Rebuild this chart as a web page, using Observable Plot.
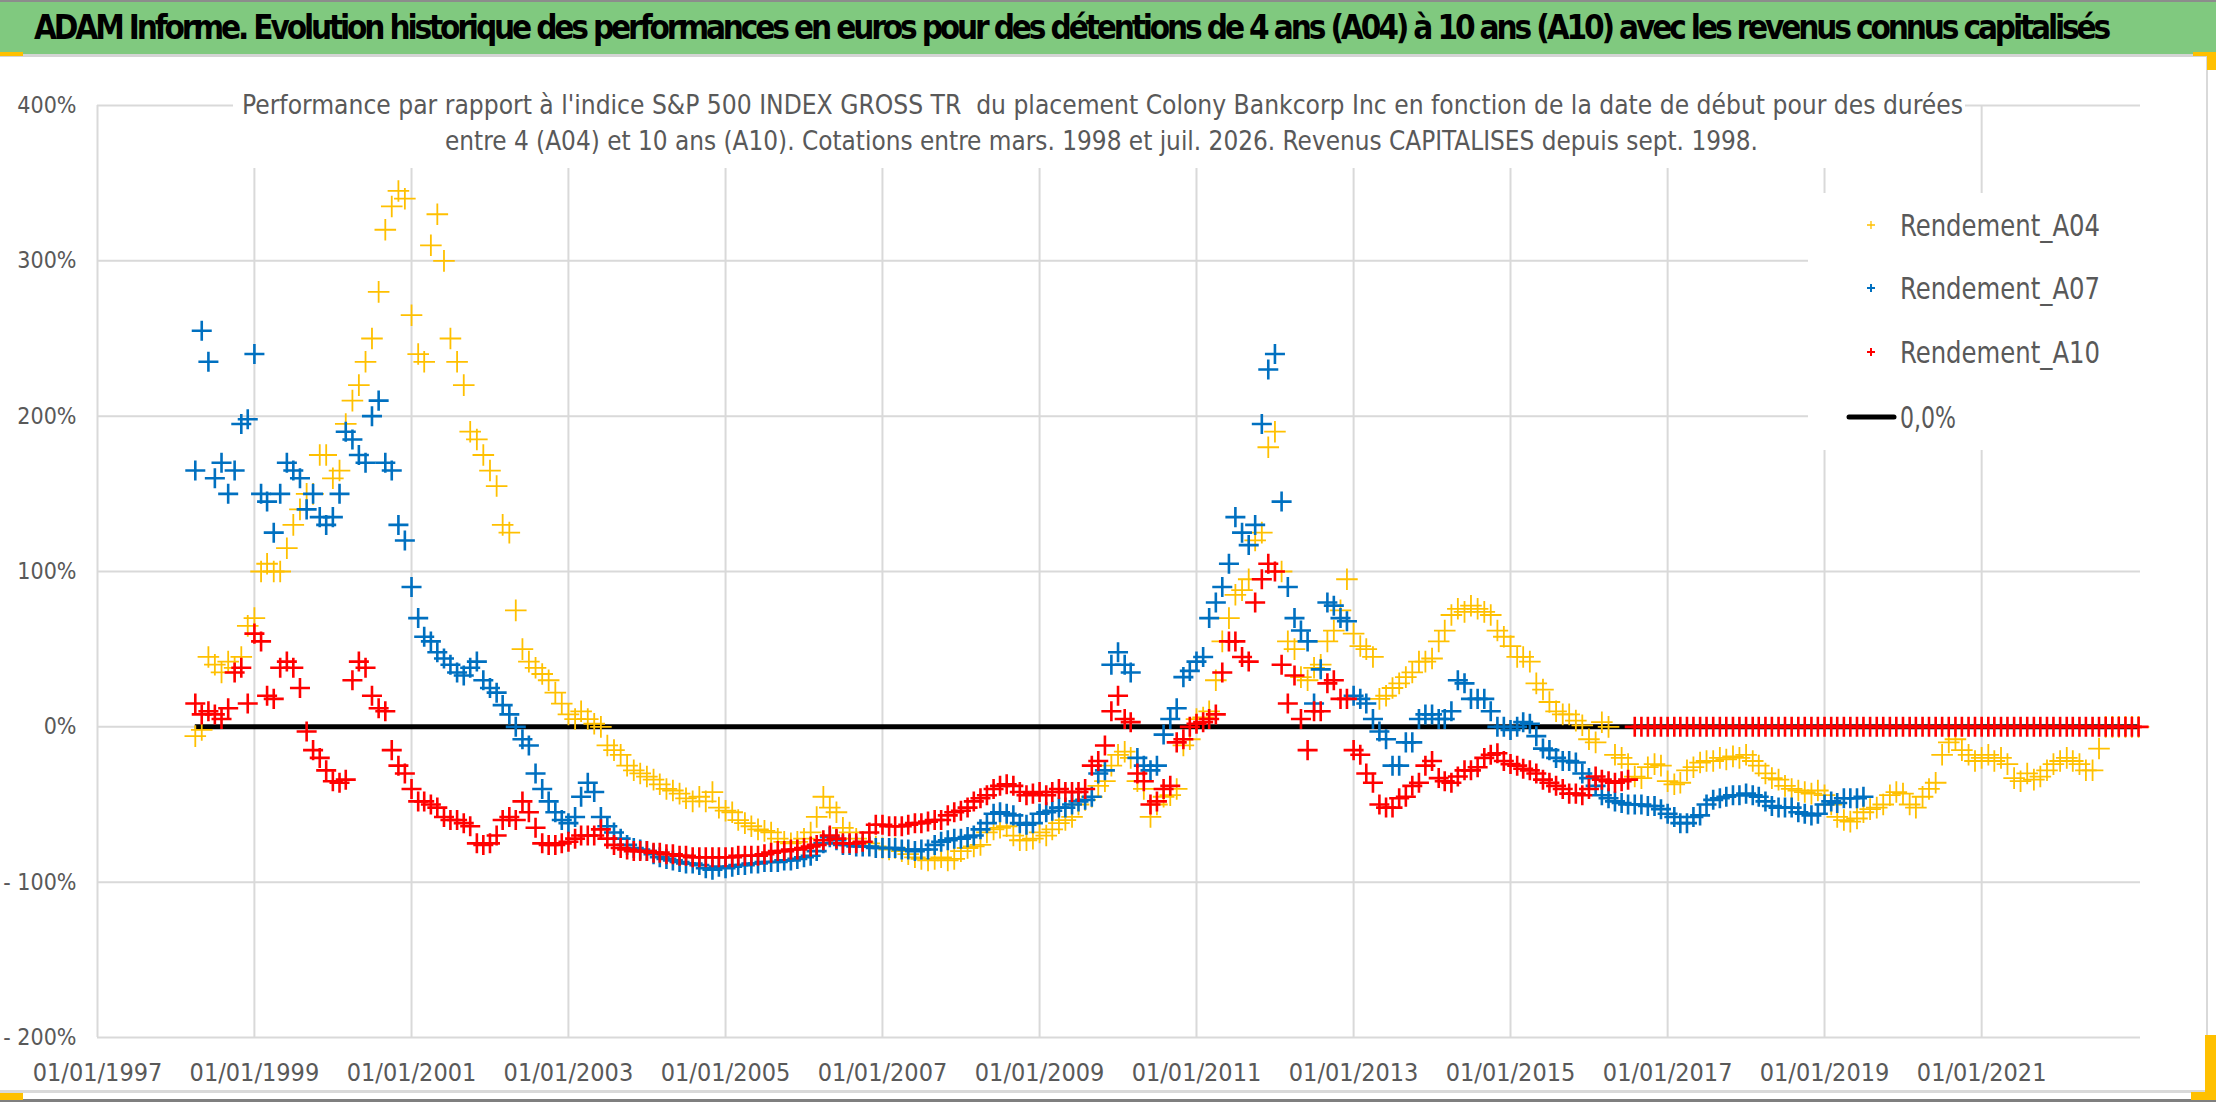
<!DOCTYPE html>
<html>
<head>
<meta charset="utf-8">
<script src="https://cdn.jsdelivr.net/npm/d3@7"></script>
<script src="https://cdn.jsdelivr.net/npm/@observablehq/plot@0.6"></script>
<style>
  body { margin: 0; background: #fff; }
  #page { position: relative; width: 2216px; height: 1102px; overflow: hidden; background: #fff; }
  #chart { position: absolute; left: 0; top: 57px; }
  #overlay { position: absolute; left: 0; top: 0; }
  #title { position: absolute; left: 34px; top: 11px; font-family: "Liberation Sans Narrow", "DejaVu Sans Condensed", "Liberation Sans", sans-serif;
           font-weight: bold; font-size: 33px; line-height: 33px; color: #000; white-space: nowrap; }
</style>
</head>
<body>
<div id="page">
  <div id="chart"></div>
  <svg id="overlay" width="2216" height="1102"></svg>
  <span id="title">ADAM Informe. Evolution historique des performances en euros pour des détentions de 4 ans (A04) à 10 ans (A10) avec les revenus connus capitalisés</span>
</div>
<script>
const FONT = '"Liberation Sans Narrow", "DejaVu Sans Condensed", "Liberation Sans", sans-serif'

// monthly readings (%), first value = April 1998
const a04 = [
  -6, -2, 45, 40, 35, 42, 38, 45, 65,
  70, 100, 105, 100, 100, 115, 130, 140, 150, 150, 175, 175,
  160, 165, 195, 210, 220, 235, 250, 280, 320, 335, 345, 340,
  265, 240, 235, 310, 330, 300, 250, 235, 220, 190, 185, 175,
  165, 155, 130, 125, 75, 50, 42, 38, 34, 30, 22, 15,
  8, 5, 10, 5, 2, 0, -12, -15, -18, -25, -28, -30,
  -32, -34, -37, -40, -41, -43, -46, -48, -45, -48, -42, -52,
  -54, -55, -60, -62, -64, -66, -67, -68, -72, -74, -75, -74,
  -72, -68, -58, -45, -52, -55, -65, -68, -72, -74, -75, -77,
  -78, -79, -78, -80, -82, -84, -85, -86, -85, -84, -86, -85,
  -80, -78, -77, -76, -68, -66, -65, -64, -70, -73, -73, -72,
  -68, -70, -66, -62, -60, -58, -50, -47, -45, -38, -35, -25,
  -18, -16, -20, -35, -40, -58, -50, -45, -44, -40, -12, -8,
  5, 6, 10, 30, 55, 70, 85, 88, 95, 120, 125, 180,
  190, 100, 55, 50, 32, 30, 38, 40, 55, 62, 75, 95,
  60, 52, 50, 45, 18, 20, 25, 28, 32, 35, 42, 42,
  44, 55, 62, 72, 76, 74, 78, 76, 74, 72, 62, 58,
  52, 45, 45, 42, 28, 24, 16, 10, 8, 8, 4, 1,
  -8, -10, 3, 0, -18, -20, -24, -32, -33, -26, -24, -25,
  -35, -37, -36, -28, -26, -23, -22, -22, -20, -21, -19, -20,
  -18, -22, -25, -30, -33, -34, -38, -40, -41, -42, -43, -41,
  -44, -50, -58, -60, -61, -59, -55, -53, -52, -50, -44, -42,
  -43, -50, -52, -45, -40, -36, -18, -10, -8, -15, -18, -22,
  -20, -18, -22, -20, -24, -33, -35, -30, -34, -32, -28, -24,
  -22, -20, -22, -24, -28, -28, -14, 0, 0, 0, 0, 0,
  0
]

const a07 = [
  165, 255, 235, 160, 170, 150, 165, 195, 198,
  240, 150, 145, 125, 150, 170, 165, 160, 140, 150, 135, 130,
  135, 150, 190, 185, 175, 170, 200, 210, 170, 165, 130, 120,
  90, 70, 58, 55, 48, 44, 40, 35, 33, 38, 42, 30,
  25, 22, 14, 8, 0, -8, -12, -30, -40, -48, -55, -60,
  -62, -58, -45, -36, -42, -58, -64, -68, -72, -76, -78, -79,
  -80, -82, -84, -85, -86, -87, -88, -88, -89, -91, -92, -90,
  -91, -90, -89, -89, -88, -88, -87, -87, -87, -86, -86, -85,
  -84, -83, -80, -75, -71, -73, -76, -76, -77, -77, -77, -78,
  -78, -78, -78, -79, -79, -80, -79, -79, -76, -74, -73, -72,
  -72, -71, -70, -66, -62, -56, -55, -56, -57, -62, -63, -62,
  -56, -55, -54, -52, -52, -50, -48, -47, -45, -30, -28, 40,
  48, 40, 35, -20, -25, -28, -25, -5, 5, 12, 32, 36,
  42, 45, 70, 80, 90, 105, 135, 125, 117, 130, 195, 230,
  240, 145, 90, 70, 62, 55, 15, 37, 80, 78, 70, 68,
  20, 18, 15, 5, -3, -8, -25, -25, -10, -10, 5, 8,
  8, 5, 5, 10, 30, 28, 18, 18, 18, 10, 0, 0,
  -2, 0, 3, 2, -6, -14, -15, -20, -22, -22, -23, -30,
  -33, -38, -44, -46, -48, -49, -50, -50, -50, -51, -51, -53,
  -56, -58, -62, -62, -58, -57, -50, -47, -46, -45, -44, -44,
  -43, -44, -45, -48, -51, -52, -52, -52, -55, -56, -57, -56,
  -50, -48, -49, -46, -46, -46, -45
]

const a10 = [
  15, 8, 10, 8, 5, 12, 35, 38, 15,
  60, 55, 20, 18, 38, 42, 38, 25, -3, -15, -20, -28,
  -35, -36, -34, 30, 42, 38, 20, 12, 10, -15, -25, -30,
  -40, -48, -48, -50, -52, -58, -60, -60, -62, -64, -75, -76,
  -75, -70, -60, -58, -60, -48, -55, -65, -75, -76, -76, -75,
  -74, -72, -70, -70, -70, -66, -72, -76, -78, -79, -80, -80,
  -80, -81, -81, -82, -82, -83, -83, -84, -84, -84, -84, -84,
  -84, -84, -83, -83, -83, -83, -82, -81, -80, -80, -79, -79,
  -78, -77, -76, -73, -70, -72, -75, -75, -75, -74, -68, -63,
  -63, -64, -64, -64, -63, -62, -62, -61, -60, -60, -57, -55,
  -54, -52, -48, -46, -44, -40, -38, -37, -38, -42, -44, -43,
  -42, -44, -42, -40, -42, -42, -42, -40, -25, -22, -12, 10,
  20, 5, 3, -30, -35, -50, -48, -40, -38, -10, -8, 0,
  2, 3, 5, 8, 35, 55, 55, 45, 42, 80, 95, 105,
  100, 40, 15, 33, 5, -15, 10, 10, 28, 30, 18, 18,
  -15, -18, -30, -36, -50, -52, -52, -46, -45, -38, -36, -25,
  -22, -33, -35, -36, -32, -28, -28, -26, -20, -18, -17, -22,
  -24, -25, -27, -28, -30, -34, -36, -38, -40, -43, -43, -44,
  -40, -32, -34, -35, -36, -35, -34, 0, 0, 0, 0, 0,
  0, 0, 0, 0, 0, 0, 0, 0, 0, 0, 0, 0,
  0, 0, 0, 0, 0, 0, 0, 0, 0, 0, 0, 0,
  0, 0, 0, 0, 0, 0, 0, 0, 0, 0, 0, 0,
  0, 0, 0, 0, 0, 0, 0, 0, 0, 0, 0, 0,
  0, 0, 0, 0, 0, 0, 0, 0, 0, 0, 0, 0,
  0, 0, 0, 0, 0, 0, 0, 0, 0, 0, 0, 0,
  0
]

const xTicks = [1997, 1999, 2001, 2003, 2005, 2007, 2009, 2011, 2013, 2015, 2017, 2019, 2021]
const yTicks = [-200, -100, 0, 100, 200, 300, 400]
const seriesNames = ["Rendement_A04", "Rendement_A07", "Rendement_A10", "0,0%"]
const seriesColors = ["#ffc000", "#0070c0", "#ff0000", "#000000"]

const start = new Date(Date.UTC(1998, 3, 1))
const toRows = values => {
  const dates = d3.utcMonth.range(start, d3.utcMonth.offset(start, values.length))
  return values.map((v, i) => ({date: dates[i], value: v}))
}
const r04 = toRows(a04), r07 = toRows(a07), r10 = toRows(a10)
const zeroStart = r10[0].date, zeroEnd = r10[r10.length - 1].date
const tickDates = xTicks.map(y => new Date(Date.UTC(y, 0, 1)))
const pct = v => v < 0 ? "- " + (-v) + "%" : v + "%"

let chart = Plot.plot({
  width: 2190,
  height: 1035,
  marginLeft: 97,
  marginRight: 50,
  marginTop: 48,
  marginBottom: 55,
  style: {background: "transparent", color: "#595959", fontFamily: FONT, overflow: "visible"},
  x: {type: "utc", domain: [new Date(Date.UTC(1997, 0, 1)), new Date(Date.UTC(2023, 0, 10))]},
  y: {domain: [-200, 400]},
  marks: [
    Plot.gridY(yTicks, {stroke: "#d9d9d9", strokeOpacity: 1, strokeWidth: 2}),
    Plot.gridX(tickDates, {stroke: "#d9d9d9", strokeOpacity: 1, strokeWidth: 2}),
    Plot.axisX(tickDates, {tickSize: 0, tickPadding: 26, fontSize: 25, tickFormat: d3.utcFormat("%d/%m/%Y"), label: null}),
    Plot.axisY(yTicks, {tickSize: 0, tickPadding: 21, fontSize: 23, tickFormat: pct, label: null}),
    Plot.ruleY([0], {x1: () => zeroStart, x2: () => zeroEnd, stroke: "#000", strokeWidth: 5}),
    Plot.dot(r04, {x: "date", y: "value", symbol: "plus", r: 7, stroke: seriesColors[0], strokeWidth: 1.8}),
    Plot.dot(r07, {x: "date", y: "value", symbol: "plus", r: 6.5, stroke: seriesColors[1], strokeWidth: 2.6}),
    Plot.dot(r10, {x: "date", y: "value", symbol: "plus", r: 6.5, stroke: seriesColors[2], strokeWidth: 2.6})
  ]
})
d3.select('#chart').append(() => chart)

// header, subtitle and legend drawn over the chart
const ov = d3.select('#overlay').style("font-family", FONT)
ov.append("rect").attr("x", 0).attr("y", 0).attr("width", 2216).attr("height", 54).attr("fill", "#80c97f")
ov.append("rect").attr("x", 0).attr("y", 0).attr("width", 2216).attr("height", 2).attr("fill", "#8c8c8c")
ov.append("rect").attr("x", 0).attr("y", 54).attr("width", 2216).attr("height", 3).attr("fill", "#d4d4d4")
ov.append("rect").attr("x", 0).attr("y", 1090).attr("width", 2216).attr("height", 3).attr("fill", "#d9d9d9")
ov.append("rect").attr("x", 0).attr("y", 1099).attr("width", 2216).attr("height", 3).attr("fill", "#7f7f7f")
ov.append("rect").attr("x", 2206).attr("y", 57).attr("width", 2).attr("height", 1035).attr("fill", "#d9d9d9")
// selection handles
const handles = [[0, 52, 23, 4], [2193, 52, 23, 4], [2207, 52, 9, 18], [0, 1093, 23, 7], [2205, 1035, 11, 65], [2191, 1092, 25, 8]]
handles.forEach(([x, y, w, h]) => ov.append("rect").attr("x", x).attr("y", y).attr("width", w).attr("height", h).attr("fill", "#ffc000"))

// title: spread letters so it spans the same width as in the picture
const title = document.getElementById("title")
const natural = title.getBoundingClientRect().width
title.style.letterSpacing = ((2074 - natural) / title.textContent.length) + "px"

ov.append("rect").attr("x", 233).attr("y", 86).attr("width", 1732).attr("height", 82).attr("fill", "#fff")
ov.append("text").attr("x", 242).attr("y", 114).attr("font-size", 27).attr("fill", "#595959")
  .attr("textLength", 1721).attr("lengthAdjust", "spacingAndGlyphs")
  .text("Performance par rapport à l'indice S&P 500 INDEX GROSS TR\u00a0 du placement Colony Bankcorp Inc en fonction de la date de début pour des durées")
ov.append("text").attr("x", 445).attr("y", 150).attr("font-size", 27).attr("fill", "#595959")
  .attr("textLength", 1313).attr("lengthAdjust", "spacingAndGlyphs")
  .text("entre 4 (A04) et 10 ans (A10). Cotations entre mars. 1998 et juil. 2026. Revenus CAPITALISES depuis sept. 1998.")

// legend
ov.append("rect").attr("x", 1808).attr("y", 193).attr("width", 332).attr("height", 257).attr("fill", "#fff")
const rowsY = [225, 288, 352, 417]
const textW = [200, 200, 200, 56]
seriesNames.forEach((name, i) => {
  const cy = rowsY[i]
  if (i < 3) {
    ov.append("path").attr("d", `M${1867},${cy}h8M${1871},${cy - 4}v8`)
      .attr("stroke", seriesColors[i]).attr("stroke-width", i === 0 ? 1.3 : 2).attr("fill", "none")
  } else {
    ov.append("line").attr("x1", 1849).attr("x2", 1894).attr("y1", cy).attr("y2", cy)
      .attr("stroke", "#000").attr("stroke-width", 5).attr("stroke-linecap", "round")
  }
  ov.append("text").attr("x", 1900).attr("y", cy + 11).attr("font-size", 31).attr("fill", "#595959")
    .attr("textLength", textW[i]).attr("lengthAdjust", "spacingAndGlyphs").text(name)
})
</script>
</body>
</html>
